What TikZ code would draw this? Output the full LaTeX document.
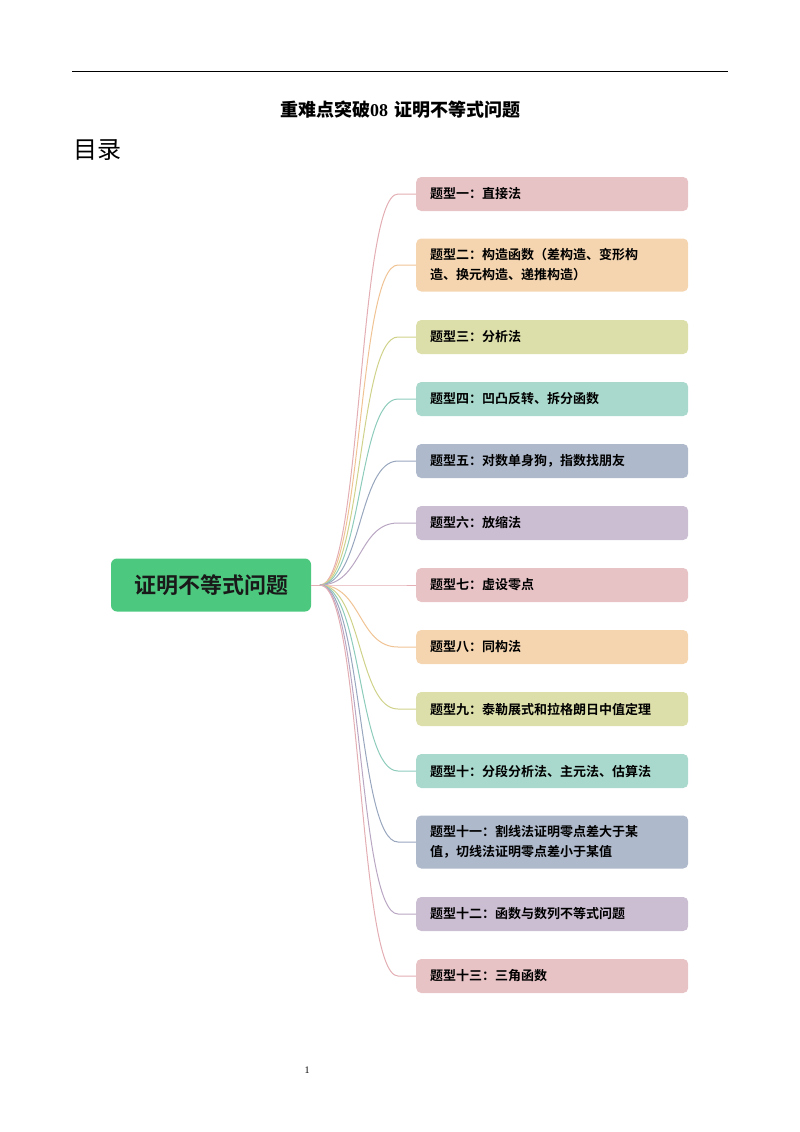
\documentclass[tikz,border=0pt]{standalone}
\usepackage{fontspec}
\setmainfont{Liberation Serif}
\newfontfamily\cjk{Noto Sans CJK SC}
\newfontfamily\cjkb{Noto Sans CJK SC Bold}
\definecolor{cA}{HTML}{E8C3C6}\definecolor{lA}{HTML}{E3AEB4}
\definecolor{cB}{HTML}{F4D5B0}\definecolor{lB}{HTML}{F0C394}
\definecolor{cC}{HTML}{DDDFAA}\definecolor{lC}{HTML}{CFD28A}
\definecolor{cD}{HTML}{A9D8CC}\definecolor{lD}{HTML}{8DCBBB}
\definecolor{cE}{HTML}{AEB9CB}\definecolor{lE}{HTML}{98A6BE}
\definecolor{cF}{HTML}{CBBDD2}\definecolor{lF}{HTML}{B9A6C3}
\definecolor{rootc}{HTML}{4DC97F}
\begin{document}
\begin{tikzpicture}[x=1pt,y=-1pt,
 topic/.style={fill=#1, rounded corners=5pt, minimum width=272pt, minimum height=34pt, text width=244pt, align=left, font=\cjkb\fontsize{13}{20}\selectfont, inner sep=0pt, anchor=west},
 conn/.style={line width=1pt}]
\useasboundingbox (0,0) rectangle (800,1132);
\draw[line width=1pt] (72,72) -- (728,72);
\node (title) at (400,110) {\bfseries\fontsize{18}{20}\selectfont{\cjkb 重难点突破}08\hspace{6pt}{\cjkb 证明不等式问题}};
\node[anchor=west] (toc) at (70,150) {\cjk\fontsize{24}{26}\selectfont 目录};
\node[fill=rootc, rounded corners=6pt, minimum width=200pt, minimum height=53pt, font=\cjkb\fontsize{22}{24}\selectfont, text=black!90] (root) at (211,585) {证明不等式问题};
\coordinate (hub) at (320,585);
\draw[conn, lA] (root.east) -- (hub);
\foreach \i/\y/\c/\h/\t in {
1/194/A/34/{题型一：直接法},
2/265/B/53/{题型二：构造函数（差构造、变形构\\造、换元构造、递推构造）},
3/337/C/34/{题型三：分析法},
4/399/D/34/{题型四：凹凸反转、拆分函数},
5/461/E/34/{题型五：对数单身狗，指数找朋友},
6/523/F/34/{题型六：放缩法},
7/585/A/34/{题型七：虚设零点},
8/647/B/34/{题型八：同构法},
9/709/C/34/{题型九：泰勒展式和拉格朗日中值定理},
10/771/D/34/{题型十：分段分析法、主元法、估算法},
11/842/E/53/{题型十一：割线法证明零点差大于某\\值，切线法证明零点差小于某值},
12/914/F/34/{题型十二：函数与数列不等式问题},
13/976/A/34/{题型十三：三角函数}}{
 \node[topic=c\c, minimum height=\h pt] (t\i) at (416,\y) {\t};
 \draw[conn, l\c] (hub) .. controls (362,585) and (358,\y) .. (398,\y) -- (t\i.west);
}
\node (pg) at (307,1070) {\fontsize{10}{12}\selectfont 1};
\end{tikzpicture}
\end{document}
